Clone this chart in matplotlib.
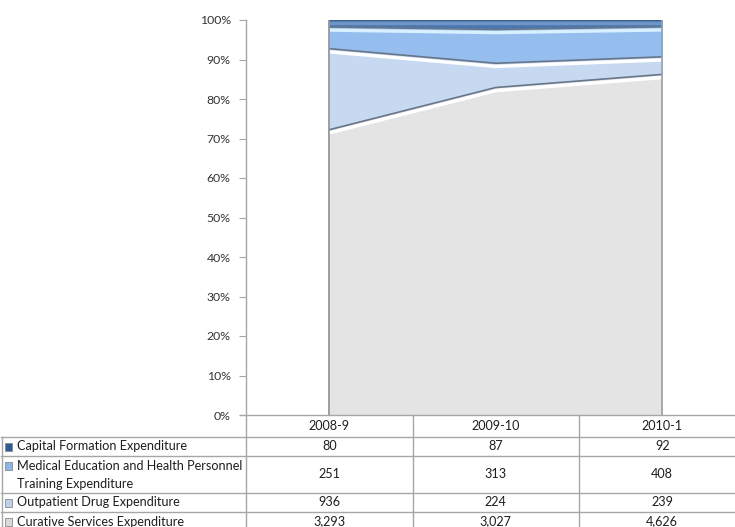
import numpy as np
import matplotlib
matplotlib.use("Agg")
import matplotlib.pyplot as plt
from matplotlib import patheffects as pe
from matplotlib.lines import Line2D
from matplotlib.patches import Rectangle
import matplotlib.transforms as mtransforms

# ---------------- data ----------------
years = ["2008-9", "2009-10", "2010-1"]
series_names = [
    "Capital Formation Expenditure",
    "Medical Education and Health Personnel\nTraining Expenditure",
    "Outpatient Drug Expenditure",
    "Curative Services Expenditure",
]
capital = [80, 87, 92]
medical_edu = [251, 313, 408]
outpatient = [936, 224, 239]
curative = [3293, 3027, 4626]
value_labels = [
    ["80", "87", "92"],
    ["251", "313", "408"],
    ["936", "224", "239"],
    ["3,293", "3,027", "4,626"],
]
yticks = [0, 10, 20, 30, 40, 50, 60, 70, 80, 90, 100]

# ---------------- style ----------------
plt.rcParams['font.family'] = ['Lato', 'DejaVu Sans']
FS = 9.1
FS_TICK = 8.8
W, H = 735, 527
cols = ["#e4e4e4", "#c6d9f1", "#95bdee", "#4b77b1"]  # bottom to top
highlights = ["white", "white", "#d8f0ff", "#6f95c6"]
key_colors = ["#2f5b93", "#8cb6e6", "#bcd0ea", "#d9d9d9"]
edge_dark = "#67768a"
grid_gray = "#a6a6a6"
text_col = "#1e1e1e"

def fy(py):
    return 1 - py / H

fig = plt.figure(figsize=(W / 100, H / 100), dpi=100)
ax = fig.add_axes([246 / W, fy(415), 499.5 / W, (415 - 20) / H])
ax.set_xlim(-0.5, 2.5)
ax.set_ylim(0, 100)

x = np.arange(len(years))
vals = np.array([curative, outpatient, medical_edu, capital], dtype=float)
tot = vals.sum(axis=0)
pct = vals / tot * 100
cum = np.cumsum(pct, axis=0)
lows = np.vstack([np.zeros(len(years)), cum[:-1]])

for i in range(4):
    ax.fill_between(x, lows[i], cum[i], color=cols[i], linewidth=0, zorder=1 + i * 0.01)
for i in range(4):
    ax.plot(x, cum[i], color=edge_dark if i < 3 else "#2c4f7e", lw=1.2, zorder=3,
            solid_capstyle='butt',
            path_effects=[pe.Stroke(offset=(0, -2.3), linewidth=2.4, foreground=highlights[i]),
                          pe.Normal()])
# side edges of the area
ax.plot([x[0], x[0]], [0, 100], color="#8a8f96", lw=1.2, zorder=4)
ax.plot([x[-1], x[-1]], [0, 100], color="#9aa0a8", lw=1.2, zorder=4)

# axes styling
for s in ["top", "right", "bottom"]:
    ax.spines[s].set_visible(False)
ax.spines["left"].set_color(grid_gray)
ax.spines["left"].set_linewidth(1.0)
ax.set_yticks(yticks)
ax.set_yticklabels([f"{t}%" for t in yticks], fontsize=FS_TICK, color="#333333")
ax.tick_params(axis="y", length=5, color=grid_gray, pad=6)
ax.set_xticks([])

# ---------------- data table ----------------
bt = mtransforms.blended_transform_factory(ax.transData, fig.transFigure)
ft = fig.transFigure

row_edges_px = [415, 437, 456, 493, 512, 531]
fig.add_artist(Line2D([240 / W, 1.02], [fy(415), fy(415)], transform=ft, color=grid_gray, lw=1.0))
for py in row_edges_px[1:-1]:
    fig.add_artist(Line2D([1 / W, 1.02], [fy(py), fy(py)], transform=ft, color=grid_gray, lw=1.0))
fig.add_artist(Line2D([1.5 / W, 1.5 / W], [fy(437), fy(531)], transform=ft, color=grid_gray, lw=1.0))
fig.add_artist(Line2D([246 / W, 246 / W], [fy(415), fy(531)], transform=ft, color=grid_gray, lw=1.0))
for b in x[:-1] + 0.5:
    fig.add_artist(Line2D([b, b], [fy(415), fy(531)], transform=bt, color=grid_gray, lw=1.0))

hy = fy((415 + 437) / 2)
for xi, yr in zip(x, years):
    fig.text(xi, hy, yr, transform=bt, ha="center", va="center", fontsize=FS, color=text_col)

for r, (name, labels) in enumerate(zip(series_names, value_labels)):
    top_px, bot_px = row_edges_px[r + 1], row_edges_px[r + 2]
    cy = fy((top_px + bot_px) / 2)
    for xi, lab in zip(x, labels):
        fig.text(xi, cy, lab, transform=bt, ha="center", va="center", fontsize=FS, color=text_col)
    lines = name.split("\n")
    first_y = top_px + 9.5
    for k, ln in enumerate(lines):
        fig.text(17 / W, fy(first_y + k * 18.5), ln, transform=ft, ha="left", va="center",
                 fontsize=FS, color=text_col)
    fig.add_artist(Rectangle((4.5 / W, fy(first_y + 4)), 8 / W, 8 / H, transform=ft,
                             facecolor=key_colors[r], edgecolor="#8a8a8a", lw=0.6))

fig.savefig("out.png", dpi=100)
